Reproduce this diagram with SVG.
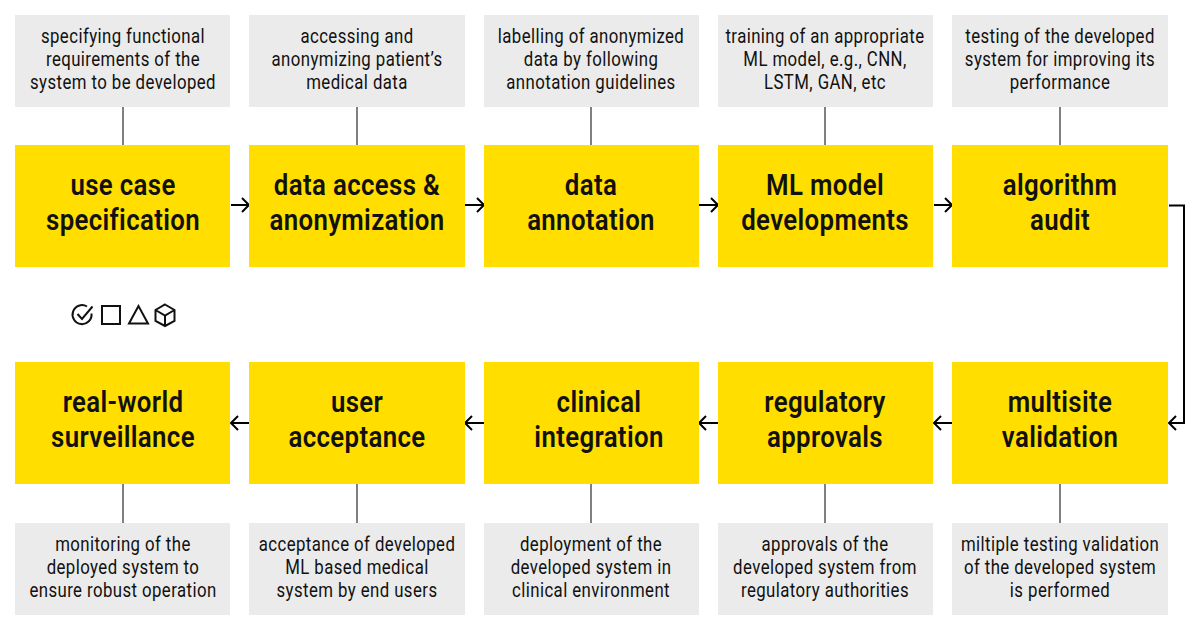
<svg xmlns="http://www.w3.org/2000/svg" width="1200" height="630" viewBox="0 0 1200 630">
<defs>
<style>
.y{fill:#ffde00}.g{fill:#ebebeb}
text{font-family:Roboto,"Liberation Sans",sans-serif;text-anchor:middle;fill:#111}
.t{font-size:29px;font-weight:600;letter-spacing:.4px}
.s{font-size:20px;letter-spacing:.5px}
.st{stroke:#808080;stroke-width:2;fill:none}
.c{stroke:#000;stroke-width:2;fill:none}
.ic{stroke:#111;stroke-width:2;fill:none}
</style>
<marker id="a" markerUnits="userSpaceOnUse" markerWidth="12" markerHeight="16" refX="10" refY="8" orient="auto"><path d="M3 1L10 8L3 15" fill="none" stroke="#000" stroke-width="2"/></marker>
</defs>
<rect width="1200" height="630" fill="#fff"/>
<g id="connectors">
<path class="st" d="M123 107V145M357 107V145M591 107V145M825 107V145M1060 107V145M123 484V523M357 484V523M591 484V523M825 484V523M1060 484V523"/>
<path class="c" marker-end="url(#a)" d="M231 205H249"/>
<path class="c" marker-end="url(#a)" d="M465 205H484"/>
<path class="c" marker-end="url(#a)" d="M699 205H718"/>
<path class="c" marker-end="url(#a)" d="M934 205H952"/>
<path class="c" marker-end="url(#a)" d="M1169 205.500H1184V423H1169"/>
<path class="c" marker-end="url(#a)" d="M952 423H934"/>
<path class="c" marker-end="url(#a)" d="M718 423H699"/>
<path class="c" marker-end="url(#a)" d="M484 423H465"/>
<path class="c" marker-end="url(#a)" d="M249 423H231"/>
</g>
<g id="n1"><rect class="y" x="15" y="145" width="215" height="122"/><text class="t" transform="translate(123 195) scale(.89 1)">use case</text><text class="t" transform="translate(123 230) scale(.89 1)">specification</text></g>
<g id="n2"><rect class="y" x="249" y="145" width="216" height="122"/><text class="t" transform="translate(357 195) scale(.89 1)">data access &amp;</text><text class="t" transform="translate(357 230) scale(.89 1)">anonymization</text></g>
<g id="n3"><rect class="y" x="484" y="145" width="215" height="122"/><text class="t" transform="translate(591 195) scale(.89 1)">data</text><text class="t" transform="translate(591 230) scale(.89 1)">annotation</text></g>
<g id="n4"><rect class="y" x="718" y="145" width="215" height="122"/><text class="t" transform="translate(825 195) scale(.89 1)">ML model</text><text class="t" transform="translate(825 230) scale(.89 1)">developments</text></g>
<g id="n5"><rect class="y" x="952" y="145" width="216" height="122"/><text class="t" transform="translate(1060 195) scale(.89 1)">algorithm</text><text class="t" transform="translate(1060 230) scale(.89 1)">audit</text></g>
<g id="n6"><rect class="y" x="952" y="362" width="216" height="122"/><text class="t" transform="translate(1060 412) scale(.89 1)">multisite</text><text class="t" transform="translate(1060 447) scale(.89 1)">validation</text></g>
<g id="n7"><rect class="y" x="718" y="362" width="215" height="122"/><text class="t" transform="translate(825 412) scale(.89 1)">regulatory</text><text class="t" transform="translate(825 447) scale(.89 1)">approvals</text></g>
<g id="n8"><rect class="y" x="484" y="362" width="215" height="122"/><text class="t" transform="translate(599 412) scale(.89 1)">clinical</text><text class="t" transform="translate(599 447) scale(.89 1)">integration</text></g>
<g id="n9"><rect class="y" x="249" y="362" width="216" height="122"/><text class="t" transform="translate(357 412) scale(.89 1)">user</text><text class="t" transform="translate(357 447) scale(.89 1)">acceptance</text></g>
<g id="n10"><rect class="y" x="15" y="362" width="215" height="122"/><text class="t" transform="translate(123 412) scale(.89 1)">real-world</text><text class="t" transform="translate(123 447) scale(.89 1)">surveillance</text></g>
<g id="d1"><rect class="g" x="15" y="15" width="215" height="92"/><text class="s" transform="translate(123 43) scale(.84 1)">specifying functional</text><text class="s" transform="translate(123 66) scale(.84 1)">requirements of the</text><text class="s" transform="translate(123 89) scale(.84 1)">system to be developed</text></g>
<g id="d2"><rect class="g" x="249" y="15" width="216" height="92"/><text class="s" transform="translate(357 43) scale(.84 1)">accessing and</text><text class="s" transform="translate(357 66) scale(.84 1)">anonymizing patient’s</text><text class="s" transform="translate(357 89) scale(.84 1)">medical data</text></g>
<g id="d3"><rect class="g" x="484" y="15" width="215" height="92"/><text class="s" transform="translate(591 43) scale(.84 1)">labelling of anonymized</text><text class="s" transform="translate(591 66) scale(.84 1)">data by following</text><text class="s" transform="translate(591 89) scale(.84 1)">annotation guidelines</text></g>
<g id="d4"><rect class="g" x="718" y="15" width="215" height="92"/><text class="s" transform="translate(825 43) scale(.84 1)">training of an appropriate</text><text class="s" transform="translate(825 66) scale(.84 1)">ML model, e.g., CNN,</text><text class="s" transform="translate(825 89) scale(.84 1)">LSTM, GAN, etc</text></g>
<g id="d5"><rect class="g" x="952" y="15" width="216" height="92"/><text class="s" transform="translate(1060 43) scale(.84 1)">testing of the developed</text><text class="s" transform="translate(1060 66) scale(.84 1)">system for improving its</text><text class="s" transform="translate(1060 89) scale(.84 1)">performance</text></g>
<g id="d6"><rect class="g" x="952" y="523" width="216" height="92"/><text class="s" transform="translate(1060 551) scale(.84 1)">miltiple testing validation</text><text class="s" transform="translate(1060 574) scale(.84 1)">of the developed system</text><text class="s" transform="translate(1060 597) scale(.84 1)">is performed</text></g>
<g id="d7"><rect class="g" x="718" y="523" width="215" height="92"/><text class="s" transform="translate(825 551) scale(.84 1)">approvals of the</text><text class="s" transform="translate(825 574) scale(.84 1)">developed system from</text><text class="s" transform="translate(825 597) scale(.84 1)">regulatory authorities</text></g>
<g id="d8"><rect class="g" x="484" y="523" width="215" height="92"/><text class="s" transform="translate(591 551) scale(.84 1)">deployment of the</text><text class="s" transform="translate(591 574) scale(.84 1)">developed system in</text><text class="s" transform="translate(591 597) scale(.84 1)">clinical environment</text></g>
<g id="d9"><rect class="g" x="249" y="523" width="216" height="92"/><text class="s" transform="translate(357 551) scale(.84 1)">acceptance of developed</text><text class="s" transform="translate(357 574) scale(.84 1)">ML based medical</text><text class="s" transform="translate(357 597) scale(.84 1)">system by end users</text></g>
<g id="d10"><rect class="g" x="15" y="523" width="215" height="92"/><text class="s" transform="translate(123 551) scale(.84 1)">monitoring of the</text><text class="s" transform="translate(123 574) scale(.84 1)">deployed system to</text><text class="s" transform="translate(123 597) scale(.84 1)">ensure robust operation</text></g>
<g id="icons">
<path class="ic" d="M91.500 313.500A9.500 9.500 0 1 1 87 306.500"/><path class="ic" d="M77.500 314L82 319L92.500 306.500"/>
<rect class="ic" x="102" y="306" width="18" height="18"/>
<path class="ic" d="M138.500 306L129 323.500H148Z"/>
<path class="ic" d="M165 304.500L174.500 310V321L165 326L155.500 321V310ZM155.500 310L165 315.500L174.500 310M165 315.500V326"/>
</g>
</svg>
